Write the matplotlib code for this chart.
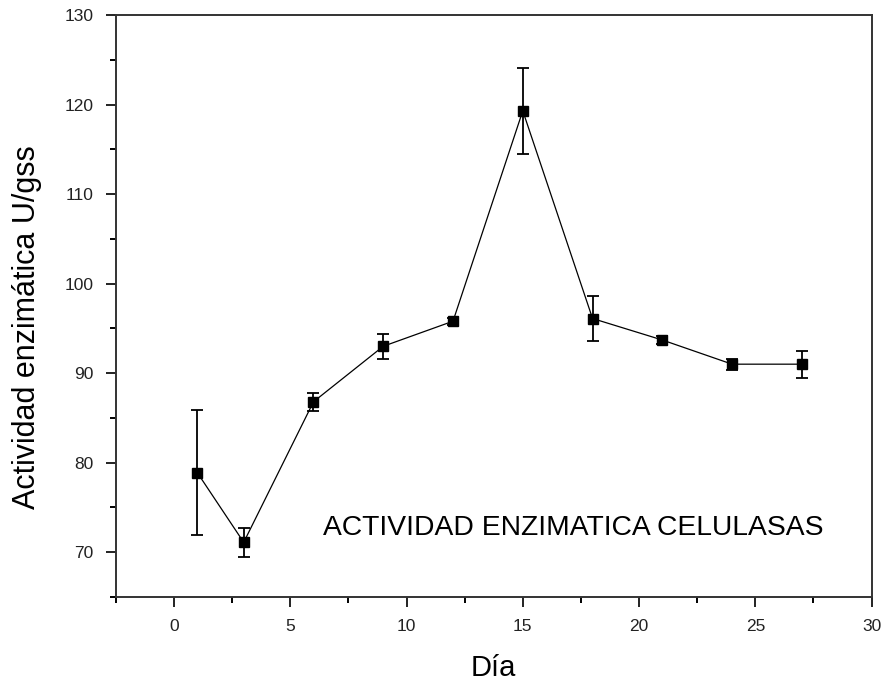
import numpy as np
import matplotlib.pyplot as plt

plt.rcParams['font.family'] = ['Liberation Sans', 'DejaVu Sans']

# datos
dias = [1, 3, 6, 9, 12, 15, 18, 21, 24, 27]
actividad = [78.9, 71.1, 86.8, 93.0, 95.8, 119.3, 96.1, 93.7, 91.0, 91.0]
error = [7.0, 1.6, 1.0, 1.4, 0.4, 4.8, 2.5, 0.5, 0.6, 1.5]

fig = plt.figure(figsize=(8.84, 6.83), dpi=100)
ax = fig.add_axes([0.131, 0.126, 0.855, 0.852])

ax.errorbar(dias, actividad, yerr=error, color='black', lw=0.9,
            marker='s', markersize=7.5, capsize=4.5, elinewidth=1.3, capthick=1.3)

ax.set_xlim(-2.5, 30)
ax.set_ylim(65, 130)
ax.set_xticks(np.arange(0, 31, 5))
ax.set_xticks(np.arange(-2.5, 30, 2.5), minor=True)
ax.set_yticks(np.arange(70, 131, 10))
ax.set_yticks(np.arange(65, 130, 5), minor=True)
ax.tick_params(which='major', direction='out', length=7, width=1.4, labelsize=12.5,
               colors='#222222')
ax.tick_params(axis='y', which='major', pad=9)
ax.tick_params(axis='x', which='major', pad=9)
ax.tick_params(which='minor', direction='out', length=4, width=1.4)
for s in ax.spines.values():
    s.set_linewidth(1.4)
    s.set_color('#333333')

ax.set_xlabel('Día', fontsize=21)
ax.set_ylabel('Actividad enzimática U/gss', fontsize=22)
ax.xaxis.set_label_coords(0.5, -0.098)
ax.yaxis.set_label_coords(-0.097, 0.464)
ax.text(17.15, 72.7, 'ACTIVIDAD ENZIMATICA CELULASAS', fontsize=20.3, ha='center', va='center')

fig.savefig('out.png', dpi=100)
